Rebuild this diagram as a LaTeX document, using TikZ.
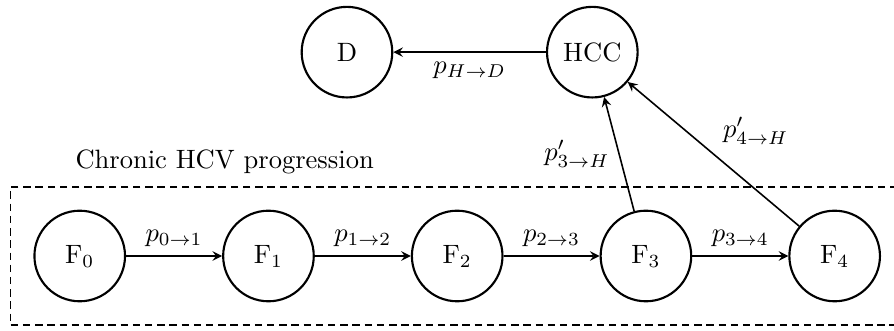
\documentclass[tikz,border=0pt]{standalone}
\usetikzlibrary{fit,arrows}
\begin{document}
\begin{tikzpicture}[x=1cm,y=1cm,>=stealth,
  state/.style={draw, thick, circle, minimum size=1.2cm, inner sep=0pt},
  trans/.style={->, semithick}]
\useasboundingbox (-1.056,-0.993) rectangle (10.786,3.391);
\node[state] (f0) at (0,0) {F$_0$};
\node[state] (f1) at (2.5,0) {F$_1$};
\node[state] (f2) at (5,0) {F$_2$};
\node[state] (f3) at (7.5,0) {F$_3$};
\node[state] (f4) at (10,0) {F$_4$};
\node[state] (d) at (3.54,2.70) {D};
\node[state] (hcc) at (6.79,2.70) {HCC};
\node[draw, dash pattern=on 2.8pt off 1.8pt, inner sep=0.3cm, fit=(f0) (f4)] (chronic) {};
\node[anchor=base] (chroniclbl) at (1.92,1.16) {Chronic HCV progression};
\draw[trans] (f0) -- node[above] {$p_{0\to1}$} (f1);
\draw[trans] (f1) -- node[above] {$p_{1\to2}$} (f2);
\draw[trans] (f2) -- node[above] {$p_{2\to3}$} (f3);
\draw[trans] (f3) -- node[above] {$p_{3\to4}$} (f4);
\draw[trans] (hcc) -- node[below] {$p_{H\to D}$} (d);
\draw[trans] (f3) -- node[left] {$p'_{3\to H}$} (hcc);
\draw[trans] (f4) -- node[above right] {$p'_{4\to H}$} (hcc);
\end{tikzpicture}
\end{document}
